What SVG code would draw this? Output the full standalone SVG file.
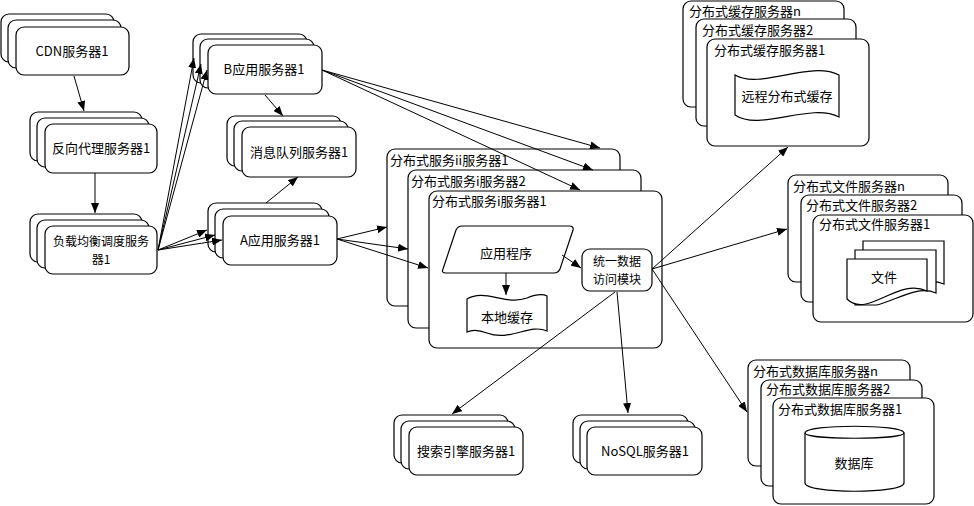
<svg xmlns="http://www.w3.org/2000/svg" width="974" height="506" viewBox="0 0 974 506">
<defs>
<marker id="arr" markerUnits="userSpaceOnUse" markerWidth="11" markerHeight="8" refX="10" refY="4" orient="auto">
<path d="M0,0 L10,4 L0,8 z" fill="#000"/>
</marker>
<style>
rect.b{fill:#fff;stroke:#000;stroke-width:1.2}
path.s{fill:#fff;stroke:#000;stroke-width:1.2}
text{font-family:"Noto Sans CJK SC","Noto Sans",sans-serif;font-size:13px;fill:#000}
text.c{text-anchor:middle}
text.t{font-size:12px}
#connectors line{stroke:#000;stroke-width:1;marker-end:url(#arr)}
</style>
</defs>
<rect width="974" height="506" fill="#fff"/>

<g id="cdn">
<rect class="b" x="1" y="14" width="113" height="48" rx="8"/>
<rect class="b" x="8" y="20" width="113" height="48" rx="8"/>
<rect class="b" x="16" y="27" width="113" height="48" rx="8"/>
<text class="c" x="72" y="56">CDN服务器1</text>
</g>
<g id="proxy">
<rect class="b" x="30" y="112" width="112" height="49" rx="8"/>
<rect class="b" x="37" y="118" width="112" height="49" rx="8"/>
<rect class="b" x="45" y="124" width="112" height="49" rx="8"/>
<text class="c" x="101" y="153">反向代理服务器1</text>
</g>
<g id="lb">
<rect class="b" x="30" y="214" width="112" height="48" rx="8"/>
<rect class="b" x="37" y="220" width="112" height="48" rx="8"/>
<rect class="b" x="45" y="226" width="112" height="48" rx="8"/>
<text class="c t" x="101" y="246">负载均衡调度服务</text>
<text class="c t" x="101" y="264">器1</text>
</g>
<g id="appB">
<rect class="b" x="193" y="34" width="114" height="49" rx="8"/>
<rect class="b" x="200" y="39" width="114" height="49" rx="8"/>
<rect class="b" x="208" y="45" width="114" height="49" rx="8"/>
<text class="c" x="264" y="74">B应用服务器1</text>
</g>
<g id="mq">
<rect class="b" x="227" y="116" width="114" height="50" rx="8"/>
<rect class="b" x="234" y="121" width="114" height="50" rx="8"/>
<rect class="b" x="242" y="127" width="114" height="50" rx="8"/>
<text class="c" x="299" y="157">消息队列服务器1</text>
</g>
<g id="appA">
<rect class="b" x="208" y="203" width="114" height="49" rx="8"/>
<rect class="b" x="215" y="209" width="114" height="49" rx="8"/>
<rect class="b" x="223" y="216" width="114" height="49" rx="8"/>
<text class="c" x="280" y="245">A应用服务器1</text>
</g>
<g id="search">
<rect class="b" x="394" y="415" width="114" height="48" rx="8"/>
<rect class="b" x="401" y="421" width="114" height="48" rx="8"/>
<rect class="b" x="409" y="427" width="114" height="48" rx="8"/>
<text class="c" x="466" y="456">搜索引擎服务器1</text>
</g>
<g id="nosql">
<rect class="b" x="573" y="415" width="115" height="48" rx="8"/>
<rect class="b" x="580" y="421" width="115" height="48" rx="8"/>
<rect class="b" x="587" y="427" width="115" height="48" rx="8"/>
<text class="c" x="645" y="456">NoSQL服务器1</text>
</g>

<g id="svc">
<rect class="b" x="387" y="149" width="233" height="157" rx="8"/>
<text x="390" y="165">分布式服务ii服务器1</text>
<rect class="b" x="408" y="170" width="233" height="158" rx="8"/>
<text x="411" y="186">分布式服务i服务器2</text>
<rect class="b" x="429" y="191" width="233" height="157" rx="8"/>
<text x="432" y="206">分布式服务i服务器1</text>
</g>
<g id="app">
<path class="s" d="M462,226 L569,226 Q574,226 573,230 L560,269 Q558,273 554,273 L446,273 Q441,273 443,269 L456,230 Q458,226 462,226 Z"/>
<text class="c" x="506" y="258">应用程序</text>
</g>
<g id="localcache">
<path class="s" d="M467,299 C485,288 505,306 527,298 C537,294 543,294 547,296 L547,331 C530,323 510,342 487,333 C477,329 471,330 467,332 Z"/>
<text class="c" x="507" y="322">本地缓存</text>
</g>
<g id="dal">
<rect class="b" x="582" y="249" width="70" height="42" rx="8"/>
<text class="c t" x="617" y="266">统一数据</text>
<text class="c t" x="617" y="284">访问模块</text>
</g>

<g id="cache">
<rect class="b" x="683" y="1" width="161" height="106" rx="8"/>
<text x="689" y="16">分布式缓存服务器n</text>
<rect class="b" x="696" y="19" width="160" height="107" rx="8"/>
<text x="702" y="35">分布式缓存服务器2</text>
<rect class="b" x="707" y="39" width="162" height="107" rx="8"/>
<text x="714" y="55">分布式缓存服务器1</text>
<path class="s" d="M735,75 C760,90 810,60 839,75 L839,117 C810,102 760,132 735,115 Z"/>
<text class="c" x="787" y="101">远程分布式缓存</text>
</g>

<g id="fs">
<rect class="b" x="788" y="175" width="160" height="107" rx="8"/>
<text x="793" y="191">分布式文件服务器n</text>
<rect class="b" x="801" y="195" width="161" height="107" rx="8"/>
<text x="806" y="210">分布式文件服务器2</text>
<rect class="b" x="813" y="215" width="160" height="107" rx="8"/>
<text x="819" y="229">分布式文件服务器1</text>
<path class="s" d="M863,241 L944,241 L944,284 C925,276 905,290 885,296 L863,296 Z"/>
<path class="s" d="M855,250 L936,250 L936,293 C917,285 897,300 877,305 L855,305 Z"/>
<path class="s" d="M847,259 L927,259 L927,291 C905,281 885,300 866,304 C856,306 850,302 847,299 Z"/>
<text class="c" x="884" y="282">文件</text>
</g>

<g id="db">
<rect class="b" x="748" y="360" width="162" height="106" rx="8"/>
<text x="753" y="376">分布式数据库服务器n</text>
<rect class="b" x="761" y="380" width="161" height="106" rx="8"/>
<text x="766" y="394">分布式数据库服务器2</text>
<rect class="b" x="773" y="398" width="161" height="106" rx="8"/>
<text x="778" y="414">分布式数据库服务器1</text>
<path class="s" d="M805,433 C805,424 904,424 904,433 L904,483 C904,494 805,494 805,483 Z"/>
<path fill="none" stroke="#000" stroke-width="1.2" d="M805,433 C805,440 904,440 904,433"/>
<text class="c" x="854" y="468">数据库</text>
</g>

<g id="connectors">
<line x1="74" y1="76" x2="84" y2="111"/>
<line x1="95" y1="173" x2="95" y2="213"/>
<line x1="158" y1="250" x2="194" y2="58"/>
<line x1="158" y1="250" x2="201" y2="64"/>
<line x1="158" y1="250" x2="207" y2="70"/>
<line x1="158" y1="250" x2="207" y2="230"/>
<line x1="158" y1="250" x2="215" y2="235"/>
<line x1="158" y1="250" x2="222" y2="240"/>
<line x1="265" y1="95" x2="283" y2="116"/>
<line x1="266" y1="203" x2="298" y2="177"/>
<line x1="322" y1="70" x2="600" y2="148"/>
<line x1="322" y1="70" x2="593" y2="170"/>
<line x1="322" y1="70" x2="580" y2="190"/>
<line x1="337" y1="239" x2="387" y2="227"/>
<line x1="337" y1="239" x2="408" y2="249"/>
<line x1="337" y1="239" x2="428" y2="268"/>
<line x1="562" y1="255" x2="581" y2="268"/>
<line x1="506" y1="273" x2="506" y2="295"/>
<line x1="652" y1="269" x2="788" y2="147"/>
<line x1="652" y1="269" x2="787" y2="229"/>
<line x1="652" y1="269" x2="747" y2="412"/>
<line x1="615" y1="292" x2="452" y2="414"/>
<line x1="617" y1="292" x2="628" y2="413"/>
</g>
</svg>
